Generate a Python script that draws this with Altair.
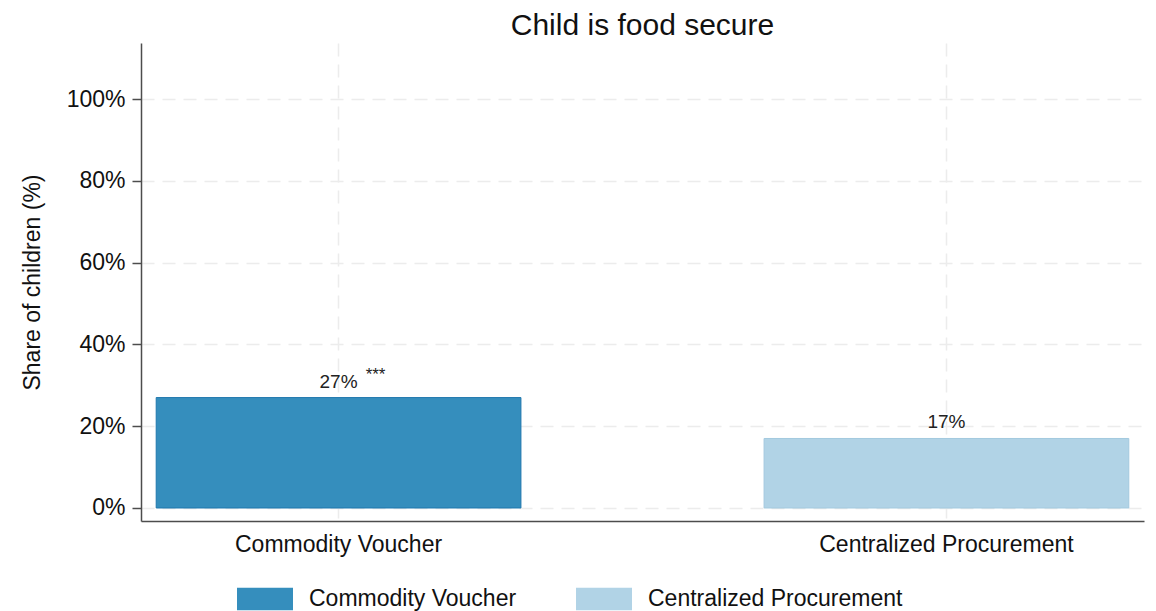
import altair as alt
import pandas as pd

groups = ["Commodity Voucher", "Centralized Procurement"]
shares = [27, 17]
value_labels = ["27%", "17%"]
stars = ["***", ""]
fills = ["#358ebd", "#b1d3e6"]
strokes = ["#1f77ad", "#a3c9df"]
y_ticks = [0, 20, 40, 60, 80, 100]

df = pd.DataFrame({"group": groups, "share": shares, "label": value_labels, "stars": stars})

FONT = "Liberation Sans"

x_enc = alt.X(
    "group:N",
    sort=groups,
    title=None,
    scale=alt.Scale(paddingInner=0.4, paddingOuter=0.025),
    axis=alt.Axis(
        labelAngle=0, labelFontSize=23, labelColor="#111111", labelFont=FONT,
        labelLimit=0, ticks=False, labelPadding=12, domainColor="#4d4d4d", domainWidth=1.5,
        grid=True, gridDash=[13, 8], gridColor="#ececec", gridWidth=1.5,
        bandPosition=0.5,
    ),
)
y_scale = alt.Scale(domain=[-3.18, 113.7], nice=False, zero=False)

bars = alt.Chart(df).mark_bar(strokeWidth=1).encode(
    x=x_enc,
    y=alt.Y(
        "share:Q",
        scale=y_scale,
        title="Share of children (%)",
        axis=alt.Axis(
            values=y_ticks, labelExpr="datum.value + '%'", labelFontSize=23,
            labelFont=FONT, labelColor="#111111", tickSize=9, tickColor="#4d4d4d",
            tickWidth=1.5, labelPadding=7, domainColor="#4d4d4d", domainWidth=1.5,
            grid=True, gridDash=[13, 8], gridColor="#ececec", gridWidth=1.5,
            titleFontSize=23, titleFont=FONT, titleFontWeight="normal",
            titleColor="#111111", titleAngle=270, titleX=-109, titleY=239,
            titleAlign="center", titleBaseline="middle",
        ),
    ),
    y2=alt.datum(0),
    color=alt.Color(
        "group:N",
        sort=groups,
        scale=alt.Scale(domain=groups, range=fills),
        legend=alt.Legend(
            orient="none", legendX=96, legendY=528, direction="horizontal",
            title=None, symbolType="M-1,-0.4H1V0.4H-1Z", symbolSize=3136,
            symbolStrokeWidth=0, labelFontSize=23, labelFont=FONT, labelLimit=0,
            labelColor="#111111", columnPadding=59, labelOffset=16, padding=0,
            symbolOpacity=1,
        ),
    ),
    stroke=alt.Stroke("group:N", sort=groups,
                      scale=alt.Scale(domain=groups, range=strokes), legend=None),
)

labels = alt.Chart(df).mark_text(
    baseline="bottom", dy=-6, fontSize=19, font=FONT, color="#222222"
).encode(x=alt.X("group:N", sort=groups), y=alt.Y("share:Q", scale=y_scale), text="label:N")

star_text = alt.Chart(df).mark_text(
    baseline="bottom", dx=37, dy=-14, fontSize=17, font=FONT, color="#222222"
).encode(x=alt.X("group:N", sort=groups), y=alt.Y("share:Q", scale=y_scale), text="stars:N")

chart = (
    alt.layer(bars, labels, star_text)
    .properties(
        width=1003, height=478,
        title=alt.TitleParams("Child is food secure", fontSize=30, font=FONT,
                              fontWeight="normal", color="#111111", anchor="middle", offset=2),
        autosize=alt.AutoSizeParams(type="none"),
        padding={"left": 133, "top": 35, "right": 4, "bottom": 110},
    )
    .configure_view(stroke=None)
)

chart.save("out.html", embed_options={"renderer": "svg", "actions": False})
